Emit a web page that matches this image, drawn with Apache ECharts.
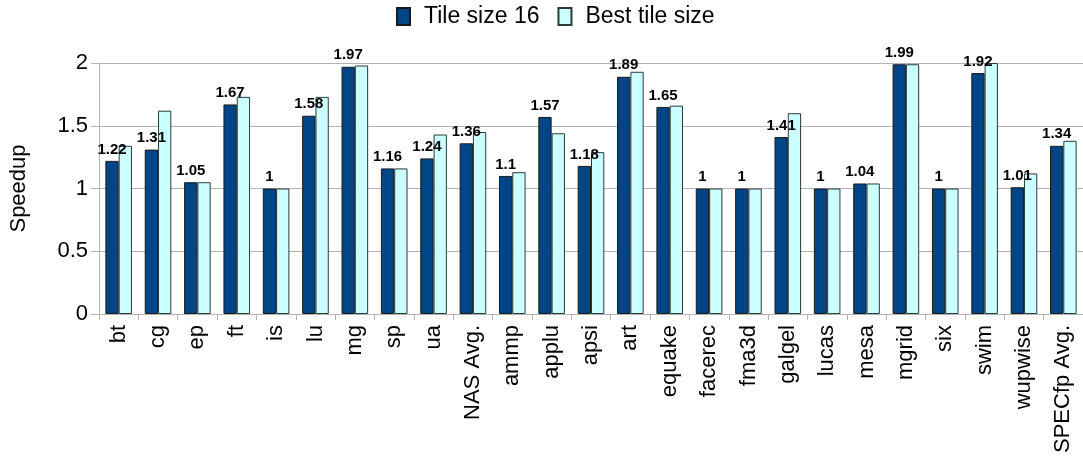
<!DOCTYPE html>
<html>
<head>
<meta charset="utf-8">
<script src="https://cdn.jsdelivr.net/npm/echarts@6/dist/echarts.min.js"></script>
<style>html,body{margin:0;padding:0;background:#fff}#c{width:1083px;height:468px}</style>
</head>
<body>
<div id="c"></div>
<script>
const categories = ['bt','cg','ep','ft','is','lu','mg','sp','ua','NAS Avg.','ammp','applu','apsi','art','equake','facerec','fma3d','galgel','lucas','mesa','mgrid','six','swim','wupwise','SPECfp Avg.'];
const tile16 = [1.22,1.31,1.05,1.67,1,1.58,1.97,1.16,1.24,1.36,1.1,1.57,1.18,1.89,1.65,1,1,1.41,1,1.04,1.99,1,1.92,1.01,1.34];
const bestTile = [1.34,1.62,1.05,1.73,1,1.73,1.98,1.16,1.43,1.45,1.13,1.44,1.29,1.93,1.66,1,1,1.6,1,1.04,1.99,1,2.0,1.12,1.38];
const yTicks = [0,0.5,1,1.5,2];

const font = '"Liberation Sans", Arial, sans-serif';
const chart = echarts.init(document.getElementById('c'), null, {renderer:'canvas'});
chart.setOption({
  animation:false,
  backgroundColor:'#ffffff',
  textStyle:{fontFamily:font},
  legend:{
    left:391, top:0, icon:'rect',
    itemWidth:13, itemHeight:17, itemGap:18,
    textStyle:{fontSize:23, color:'#000', fontFamily:font, padding:[0,0,0,9]},
    data:['Tile size 16','Best tile size']
  },
  grid:{left:99, right:-3, top:63, bottom:154, containLabel:false},
  xAxis:{
    type:'category', data:categories,
    axisLine:{lineStyle:{color:'#b3b3b3', width:1}},
    axisTick:{show:true, length:6, lineStyle:{color:'#b3b3b3'}, alignWithLabel:false},
    axisLabel:{rotate:90, fontSize:22, color:'#000', margin:11, fontFamily:font, interval:0}
  },
  yAxis:{
    type:'value', min:0, max:2, interval:0.5,
    name:'Speedup', nameLocation:'middle', nameGap:69, nameRotate:90,
    nameTextStyle:{fontSize:22, color:'#000', fontFamily:font},
    axisLine:{show:true, lineStyle:{color:'#b3b3b3'}},
    axisTick:{show:true, length:8, lineStyle:{color:'#b3b3b3'}},
    splitLine:{lineStyle:{color:'#b3b3b3'}},
    axisLabel:{fontSize:22, color:'#000', margin:11, fontFamily:font,
      formatter:v=>String(v)}
  },
  series:[
    {name:'Tile size 16', type:'bar', data:tile16, barWidth:13.3, barGap:'0%',
     itemStyle:{color:'#004586', borderColor:'#1a1a1a', borderWidth:1},
     label:{show:true, position:'top', distance:4, fontSize:15, fontWeight:'bold', color:'#000', fontFamily:font},
     z:3},
    {name:'Best tile size', type:'bar', data:bestTile, barWidth:13.3, barGap:'0%',
     itemStyle:{color:'#ccffff', borderColor:'#2a3a3a', borderWidth:1},
     z:2}
  ]
});
</script>
</body>
</html>
